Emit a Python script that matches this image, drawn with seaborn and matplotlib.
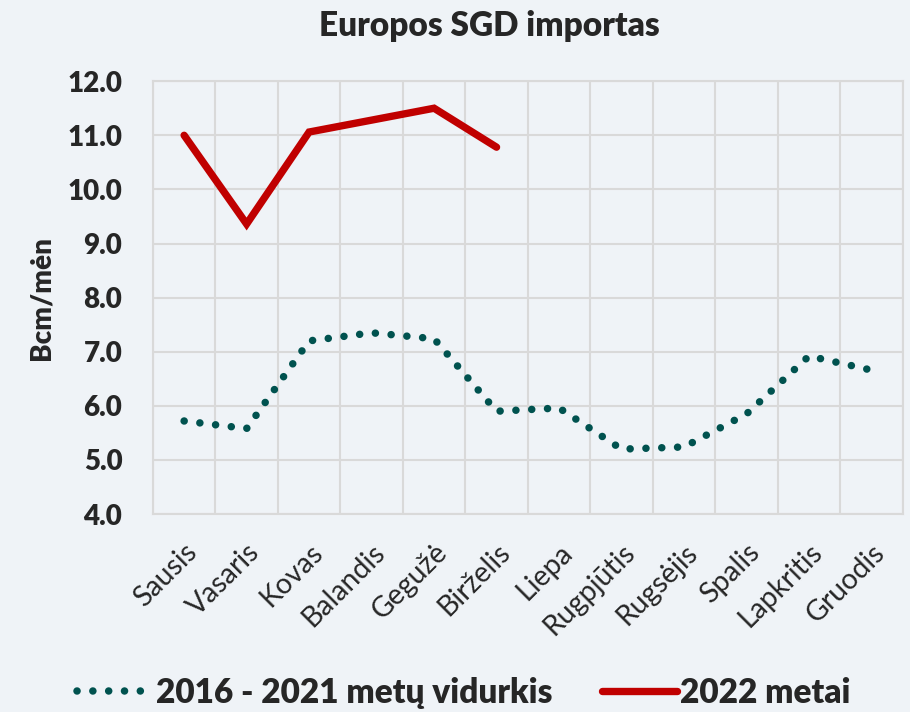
import pandas as pd
import matplotlib.pyplot as plt
import seaborn as sns

# -------------------------------
# DATA
# -------------------------------
months = ['Sausis', 'Vasaris', 'Kovas', 'Balandis', 'Gegužė', 'Birželis',
          'Liepa', 'Rugpjūtis', 'Rugsėjis', 'Spalis', 'Lapkritis', 'Gruodis']
avg_2016_2021 = [5.72, 5.58, 7.20, 7.35, 7.24, 5.90, 5.96, 5.20, 5.24, 5.85, 6.92, 6.66]
y2022 = [11.0, 9.36, 11.06, 11.28, 11.5, 10.78]
yticks = [4.0, 5.0, 6.0, 7.0, 8.0, 9.0, 10.0, 11.0, 12.0]

bg = '#EFF3F7'
grid_c = '#D9D9D9'
teal = '#00524F'
red = '#C00000'

sns.set_style("white")
plt.rcParams['font.family'] = ['Lato', 'DejaVu Sans']
bold = 'heavy'

df_avg = pd.DataFrame({'month': months, 'value': avg_2016_2021})
df_22 = pd.DataFrame({'month': months[:len(y2022)], 'value': y2022})

fig = plt.figure(figsize=(9.1, 7.12), dpi=100, facecolor=bg)
ax = fig.add_axes([0.168, 0.278, 0.824, 0.608])
ax.set_facecolor(bg)

# -------------------------------
# LINES
# -------------------------------
sns.lineplot(x='month', y='value', data=df_avg, ax=ax, color=teal,
             linewidth=5.4, label='2016 - 2021 metų vidurkis', sort=False)
avg_line = ax.lines[-1]
avg_line.set_dashes((0.01, 2.1))
avg_line.set_dash_capstyle('round')

sns.lineplot(x='month', y='value', data=df_22, ax=ax, color=red,
             linewidth=5.3, label='2022 metai', sort=False)
ax.lines[-1].set_solid_capstyle('round')
ax.lines[-1].set_solid_joinstyle('miter')

# -------------------------------
# AXES
# -------------------------------
ax.set_xlim(-0.5, len(months) - 0.5)
ax.set_ylim(4.0, 12.0)
ax.set_yticks(yticks)
ax.set_yticklabels([f'{v:.1f}' for v in yticks], fontsize=20, fontweight=bold)
ax.set_xticks(range(len(months)))
ax.set_xticks([i - 0.5 for i in range(len(months) + 1)], minor=True)
ax.set_xticklabels(months, rotation=45, ha='right', va='top',
                   rotation_mode='anchor', fontsize=20.5)
ax.tick_params(axis='both', which='both', length=0)
ax.tick_params(axis='x', pad=18)
ax.tick_params(axis='y', pad=22)
ax.grid(True, which='minor', axis='x', color=grid_c, linewidth=1.5)
ax.grid(True, which='major', axis='y', color=grid_c, linewidth=1.5)
ax.set_axisbelow(True)
for s in ax.spines.values():
    s.set_color(grid_c)
    s.set_linewidth(1.5)

ax.set_xlabel('')
ax.set_ylabel('Bcm/mėn', fontsize=20, fontweight=bold, labelpad=9)

fig.text(0.538, 0.963, 'Europos SGD importas', ha='center', va='center',
         fontsize=24, fontweight=bold)

ax.get_legend().remove()
fig.legend(*ax.get_legend_handles_labels(), loc='center', bbox_to_anchor=(0.51, 0.027),
           ncol=2, frameon=False, prop={'size': 24, 'weight': bold},
           handlelength=2.25, handletextpad=0.1, columnspacing=1.5,
           borderpad=0, borderaxespad=0)

plt.savefig('out.png', facecolor=bg)
